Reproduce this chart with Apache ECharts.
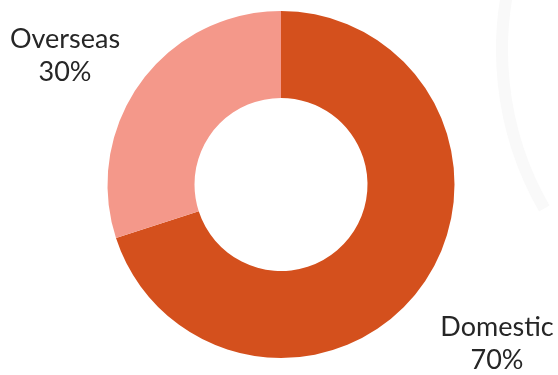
<!DOCTYPE html>
<html>
<head>
<meta charset="utf-8">
<script src="https://cdn.jsdelivr.net/npm/echarts@6/dist/echarts.min.js"></script>
<style>
  html, body { margin: 0; padding: 0; background: #ffffff; }
  #chart { width: 558px; height: 375px; }
</style>
</head>
<body>
<div id="chart"></div>
<script>
// Revenue split by market
const categories = ['Domestic', 'Overseas'];
const shares = [70, 30];
const sliceColors = ['#D4501D', '#F4988A'];

// Label anchor points (centre of each two-line label)
const labelAnchors = {
  Domestic: [497, 344],
  Overseas: [65, 56]
};

const chart = echarts.init(document.getElementById('chart'), null, { renderer: 'canvas' });

chart.setOption({
  backgroundColor: '#ffffff',
  animation: false,
  graphic: [{
    // faint decorative swoosh on the right edge
    type: 'arc',
    shape: { cx: 820, cy: 50, r: 318, startAngle: 2.62, endAngle: 3.45 },
    style: { stroke: '#f9f9f9', lineWidth: 12, fill: null },
    silent: true,
    z: -10
  }],
  series: [{
    type: 'pie',
    center: [281, 184.5],
    radius: [86.5, 173.5],
    startAngle: 90,
    clockwise: true,
    silent: true,
    data: categories.map((name, i) => ({
      name: name,
      value: shares[i],
      itemStyle: { color: sliceColors[i] }
    })),
    label: {
      show: true,
      position: 'outside',
      formatter: p => p.name + '\n' + p.value + '%',
      fontFamily: 'Lato, "Open Sans", sans-serif',
      fontSize: 27,
      lineHeight: 33,
      color: '#262626',
      align: 'center',
      width: 160,
      overflow: 'none'
    },
    labelLine: { show: false },
    labelLayout: function (params) {
      const name = categories[params.dataIndex];
      const a = labelAnchors[name];
      return { x: a[0], y: a[1], align: 'center', verticalAlign: 'middle' };
    }
  }]
});
</script>
</body>
</html>
